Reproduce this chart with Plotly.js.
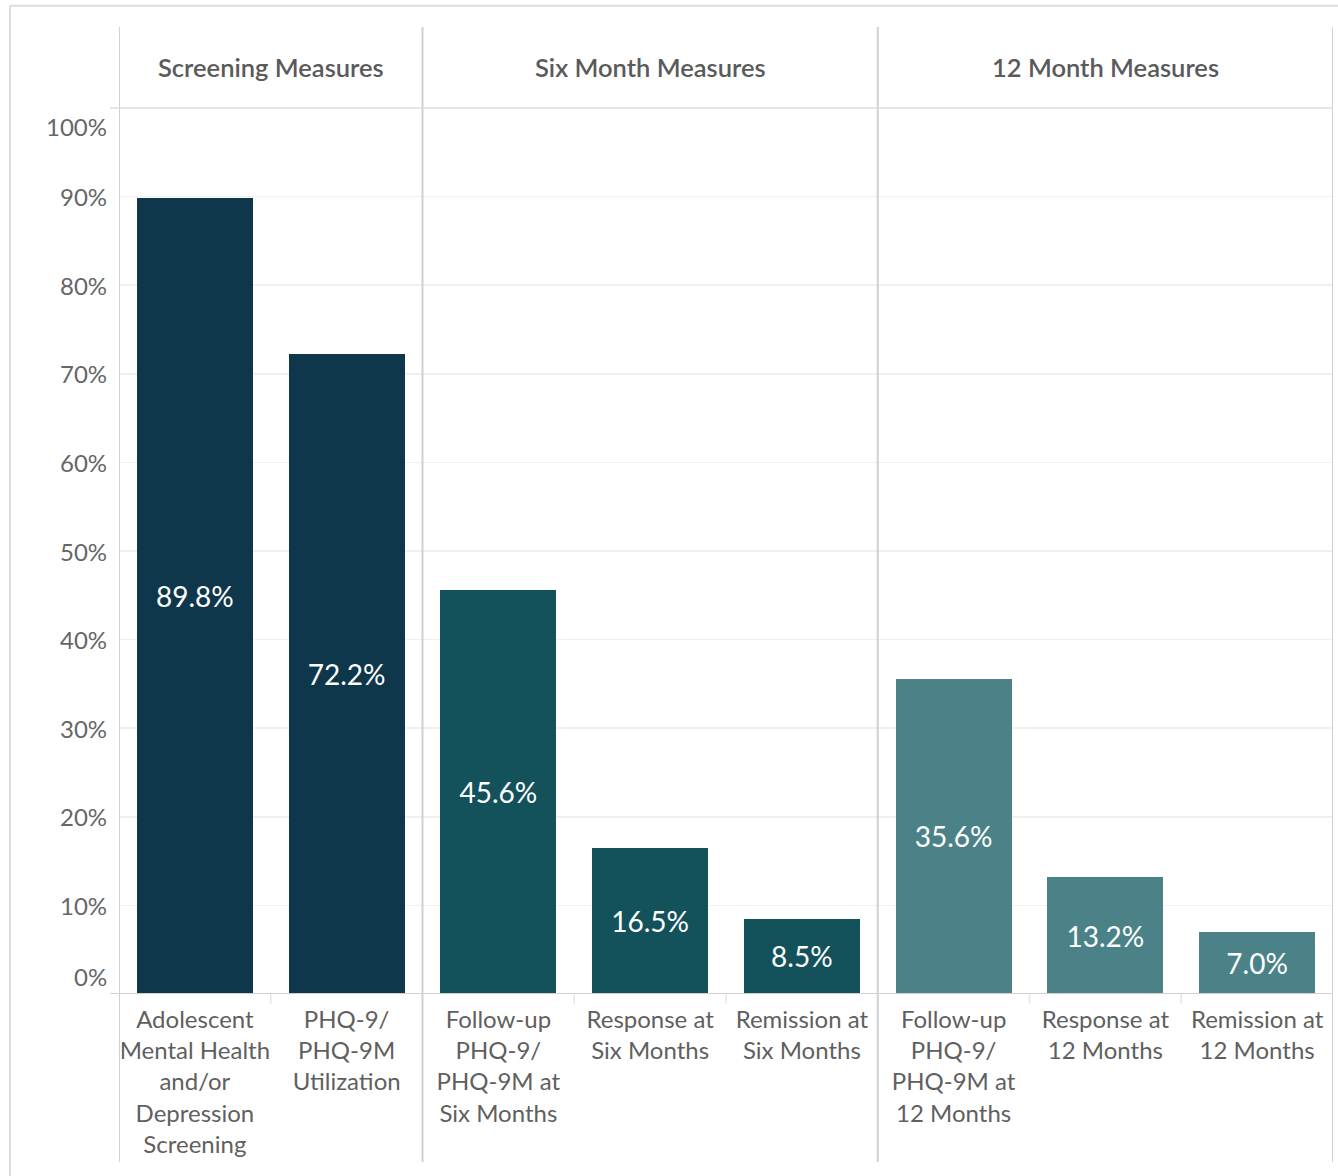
<!DOCTYPE html>
<html><head><meta charset="utf-8">
<script src="https://cdn.plot.ly/plotly-3.0.1.min.js"></script>
<style>body{margin:0;background:#fff}#chart{width:1338px;height:1176px}</style>
</head><body><div id="chart"></div>
<script>
const groups = ["Screening Measures", "Six Month Measures", "12 Month Measures"];
const categories = [
  "Adolescent<br>Mental Health<br>and/or<br>Depression<br>Screening",
  "PHQ-9/<br>PHQ-9M<br>Utilization",
  "Follow-up<br>PHQ-9/<br>PHQ-9M at<br>Six Months",
  "Response at<br>Six Months",
  "Remission at<br>Six Months",
  "Follow-up<br>PHQ-9/<br>PHQ-9M at<br>12 Months",
  "Response at<br>12 Months",
  "Remission at<br>12 Months"
];
const values = [89.8, 72.2, 45.6, 16.5, 8.5, 35.6, 13.2, 7.0];
const groupOf = [0, 0, 1, 1, 1, 2, 2, 2];
const groupColors = ["#0f374b", "#13525b", "#4b8287"];
const yTicks = [0, 10, 20, 30, 40, 50, 60, 70, 80, 90, 100];

const FONT = "Lato, 'Source Sans Pro', 'Noto Sans', sans-serif";
const idx = categories.map((c, i) => i);

const trace = {
  type: "bar",
  x: idx,
  y: values,
  width: 0.764,
  marker: { color: groupOf.map(g => groupColors[g]), line: { width: 0 } },
  text: values.map(v => v.toFixed(1) + "%"),
  textposition: "inside",
  insidetextanchor: "middle",
  textangle: 0,
  textfont: { family: FONT, size: 28, color: "#ffffff" },
  hoverinfo: "skip",
  cliponaxis: false
};

// group boundaries
const bounds = [-0.5];
groups.forEach((g, gi) => {
  const last = groupOf.lastIndexOf(gi);
  bounds.push(last + 0.5);
});

const LINE = "#d0d0d0";
const shapes = [];
// outer frame
shapes.push({type: "line", xref: "paper", yref: "paper", x0: -0.0900, x1: 1.1, y0: 1.1154, y1: 1.1154, line: {color: "#dcdcdc", width: 2}});
shapes.push({type: "line", xref: "paper", yref: "paper", x0: -0.0898, x1: -0.0898, y0: 1.1154, y1: -0.21, line: {color: "#dcdcdc", width: 2}});
// pane verticals
bounds.forEach(b => {
  shapes.push({type: "line", xref: "x", yref: "paper", x0: b, x1: b, y0: 1.0914, y1: -0.1896, line: {color: LINE, width: 2}});
});
// header bottom line & baseline
shapes.push({type: "line", xref: "paper", yref: "paper", x0: -0.0074, x1: 1, y0: 1, y1: 1, line: {color: "#dddddd", width: 1.5}});
shapes.push({type: "line", xref: "paper", yref: "y", x0: -0.0074, x1: 1, y0: 0, y1: 0, line: {color: LINE, width: 2}});
// small separators under baseline within panes
idx.forEach(i => {
  const b = i + 0.5;
  if (i < idx.length - 1 && !bounds.includes(b)) {
    shapes.push({type: "line", xref: "x", yref: "paper", x0: b, x1: b, y0: 0, y1: -0.011, line: {color: "#e6e6e6", width: 1.5}});
  }
});

const annotations = [];
groups.forEach((g, gi) => {
  annotations.push({
    text: g, xref: "x", yref: "paper", x: (bounds[gi] + bounds[gi + 1]) / 2, y: 1.0463,
    showarrow: false, xanchor: "center", yanchor: "middle",
    font: {family: FONT, size: 25.5, color: "#5a5a5a", weight: 600}
  });
});
yTicks.forEach(t => {
  annotations.push({
    text: t + "%", xref: "paper", yref: "y", x: -0.0082, y: t,
    showarrow: false, xanchor: "right", yanchor: "middle",
    yshift: t === 0 ? 18 : (t === 100 ? -18 : 0),
    font: {family: FONT, size: 24, color: "#666666"}
  });
});

const layout = {
  width: 1338, height: 1176,
  margin: {l: 119, r: 5, t: 108, b: 182},
  paper_bgcolor: "#ffffff", plot_bgcolor: "#ffffff",
  showlegend: false,
  bargap: 0,
  xaxis: {
    type: "linear", range: [-0.5, 7.5],
    tickvals: idx, ticktext: categories,
    showgrid: false, zeroline: false, showline: false,
    ticks: "", ticklen: 0, ticklabelstandoff: 9,
    tickfont: {family: FONT, size: 24, color: "#5f5f5f"},
    fixedrange: true
  },
  yaxis: {
    range: [0, 100],
    tickvals: yTicks.filter(t => t > 0 && t < 100),
    showticklabels: false,
    showgrid: true, gridcolor: "#f0f0f0", gridwidth: 1.5,
    zeroline: false, showline: false, ticks: "",
    fixedrange: true
  },
  shapes: shapes,
  annotations: annotations
};

Plotly.newPlot("chart", [trace], layout, {displayModeBar: false, staticPlot: true});
</script>
</body></html>
